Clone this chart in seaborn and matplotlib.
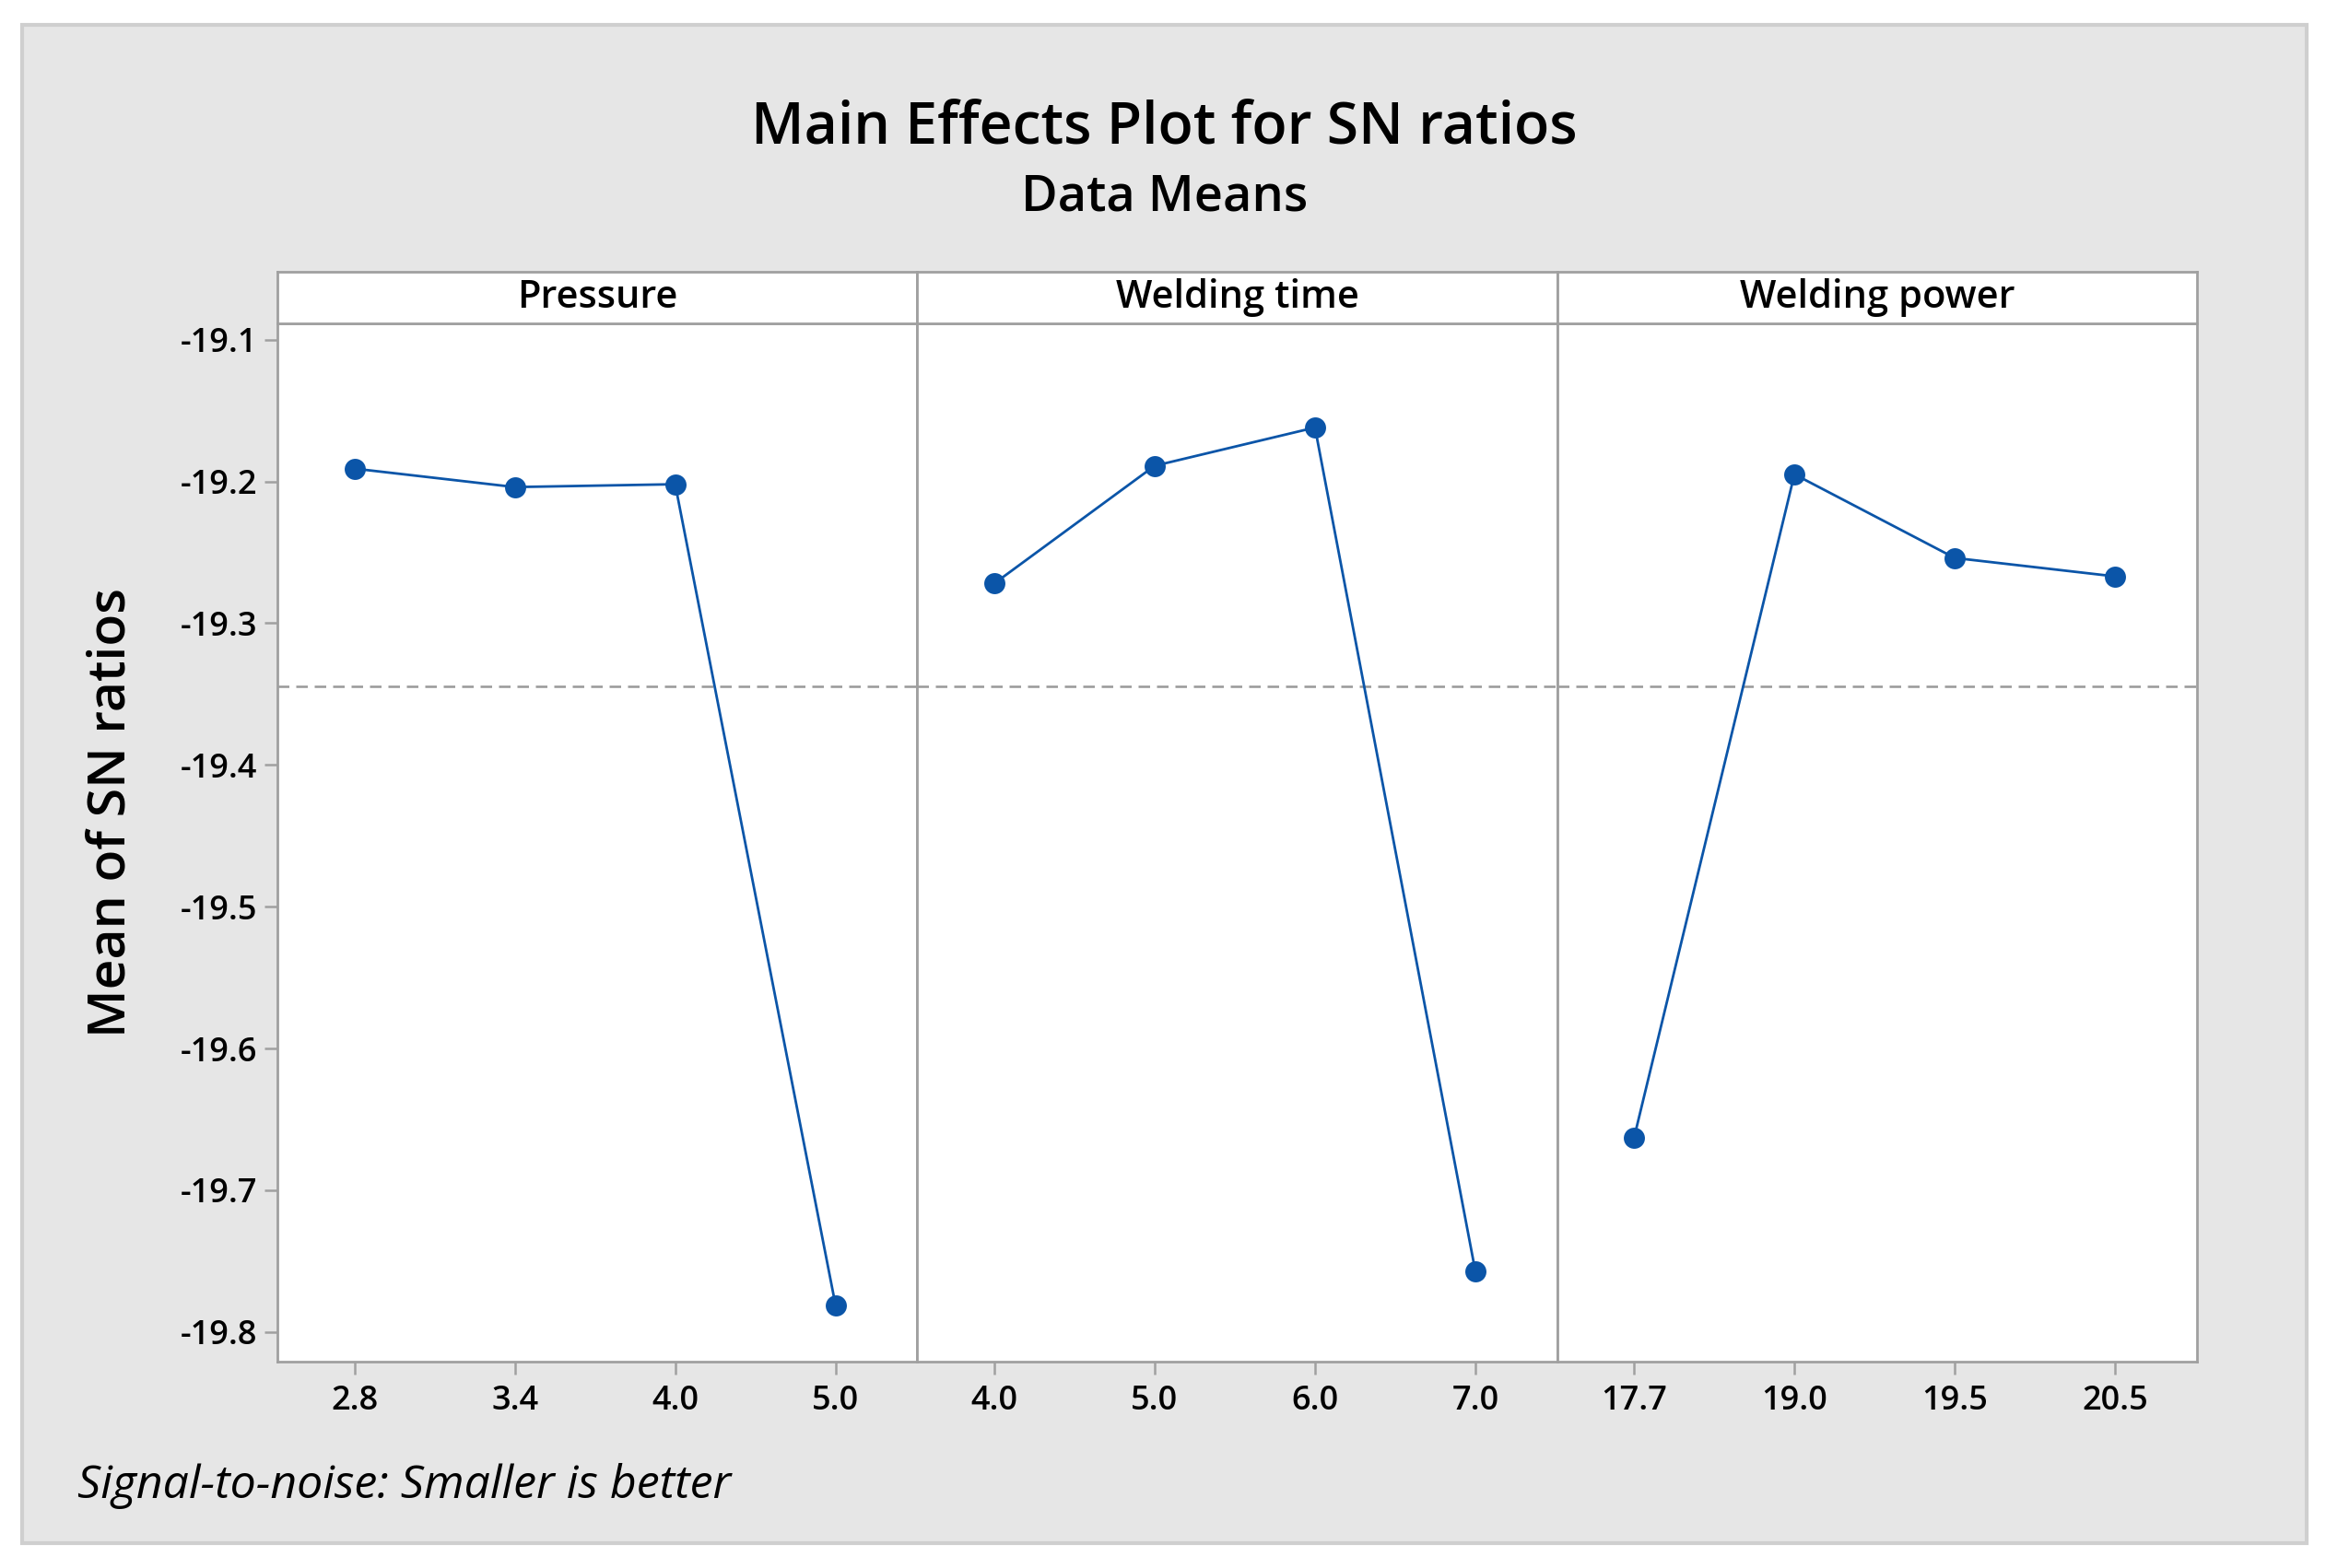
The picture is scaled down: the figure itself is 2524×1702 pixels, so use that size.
import numpy as np
import pandas as pd
import matplotlib
matplotlib.use("Agg")
import matplotlib.pyplot as plt
import seaborn as sns
from matplotlib.patches import Rectangle

# ---- data ----
factors = ["Pressure", "Welding time", "Welding power"]
pressure_levels = ["2.8", "3.4", "4.0", "5.0"]
pressure_sn = [-19.191, -19.204, -19.202, -19.781]
time_levels = ["4.0", "5.0", "6.0", "7.0"]
time_sn = [-19.272, -19.189, -19.162, -19.757]
power_levels = ["17.7", "19.0", "19.5", "20.5"]
power_sn = [-19.663, -19.195, -19.254, -19.267]
y_ticks = [-19.1, -19.2, -19.3, -19.4, -19.5, -19.6, -19.7, -19.8]

levels_all = [pressure_levels, time_levels, power_levels]
values_all = [pressure_sn, time_sn, power_sn]
overall_mean = float(np.mean(pressure_sn + time_sn + power_sn))

sns.set_style("white")
plt.rcParams['font.family'] = ['Open Sans', 'DejaVu Sans']
plt.rcParams['text.color'] = 'black'
plt.rcParams['xtick.color'] = 'black'
plt.rcParams['ytick.color'] = 'black'

W, H = 2524, 1702
dpi = 200
fig = plt.figure(figsize=(W / dpi, H / dpi), dpi=dpi, facecolor="white")

# gray background panel
bg = Rectangle((0.0096, 0.0161), 0.9821, 0.9678, transform=fig.transFigure,
               facecolor="#e6e6e6", edgecolor="#cfcfcf", linewidth=1.5, zorder=-10)
fig.patches.append(bg)

left, right = 0.1193, 0.9445
bottom, top = 0.1315, 0.7938
strip_top = 0.8269
pw = (right - left) / 3
blue = "#0b55a8"
spine_c = "#a0a0a0"
wt = "semibold"

for i, (name, lev, val) in enumerate(zip(factors, levels_all, values_all)):
    ax = fig.add_axes([left + i * pw, bottom, pw, top - bottom])
    df = pd.DataFrame({"level": lev, "sn": val})
    sns.lineplot(data=df, x=np.arange(len(lev)), y="sn", ax=ax, color=blue,
                 linewidth=1.0, marker="o", markersize=7.5,
                 markeredgecolor=blue, markerfacecolor=blue)
    ax.axhline(overall_mean, color="#999999", linestyle=(0, (5, 3)), linewidth=0.9, zorder=0)
    ax.set_facecolor("white")
    ax.set_xlim(-0.48, 3.51)
    ax.set_ylim(-19.821, -19.0885)
    ax.set_xticks(range(len(lev)))
    ax.set_xticklabels(lev, fontsize=13, fontweight=wt)
    ax.set_xlabel("")
    ax.set_ylabel("")
    for s in ax.spines.values():
        s.set_color(spine_c)
        s.set_linewidth(1.0)
    ax.tick_params(axis="x", length=5, width=0.9, color=spine_c, labelcolor="black",
                   pad=4, bottom=True)
    if i == 0:
        ax.set_yticks(y_ticks)
        ax.set_yticklabels([f"{t:.1f}" for t in y_ticks], fontsize=13, fontweight=wt)
        ax.tick_params(axis="y", length=5, width=0.9, color=spine_c, labelcolor="black",
                       pad=3, left=True)
    else:
        ax.set_yticks([])
    # strip
    sax = fig.add_axes([left + i * pw, top, pw, strip_top - top])
    sax.set_facecolor("white")
    sax.set_xticks([]); sax.set_yticks([])
    for s in sax.spines.values():
        s.set_color(spine_c)
        s.set_linewidth(1.0)
    sax.text(0.5, 0.5, name, ha="center", va="center", fontsize=15, fontweight=wt,
             transform=sax.transAxes)

fig.text(0.5006, 0.918, "Main Effects Plot for SN ratios", ha="center", va="center",
         fontsize=22.5, fontweight=wt)
fig.text(0.5006, 0.874, "Data Means", ha="center", va="center", fontsize=19.5, fontweight=wt)
fig.text(0.048, 0.4815, "Mean of SN ratios", ha="center", va="center", rotation=90,
         fontsize=20.5, fontweight=wt)
fig.text(0.0332, 0.052, "Signal-to-noise: Smaller is better", ha="left", va="center",
         fontsize=18, style="italic")

fig.savefig("out.png", dpi=dpi, facecolor="white")
